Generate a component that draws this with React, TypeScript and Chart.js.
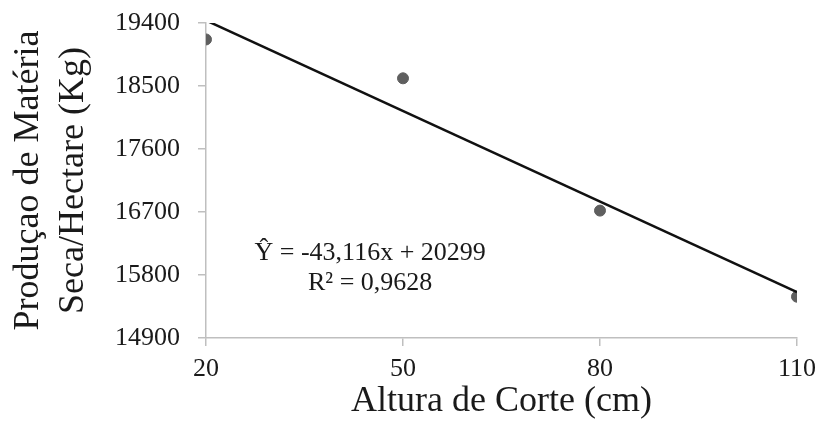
import React, { useEffect, useRef } from "react";
import { Chart, registerables } from "chart.js";

Chart.register(...registerables);

const cutHeights = [20, 50, 80, 110];
const dryMatter = [19165, 18610, 16720, 15490];
const yTicks = [14900, 15800, 16700, 17600, 18500, 19400];
const xTicks = [20, 50, 80, 110];
const trendSlope = -43.116;
const trendIntercept = 20299;
const equationLines = ["Ŷ = -43,116x + 20299", "R² = 0,9628"];
const equationAnchor = { x: 45, y: 16010 };

const FONT = "'Liberation Serif', 'Times New Roman', serif";

const equationPlugin = {
  id: "equationText",
  afterDatasetsDraw(chart: any) {
    const { ctx, scales } = chart;
    const px = scales.x.getPixelForValue(equationAnchor.x);
    const py = scales.y.getPixelForValue(equationAnchor.y);
    ctx.save();
    ctx.font = `26px ${FONT}`;
    ctx.fillStyle = "#1a1a1a";
    ctx.textAlign = "center";
    ctx.textBaseline = "alphabetic";
    equationLines.forEach((line, i) => ctx.fillText(line, px, py + i * 30));
    ctx.restore();
  },
};

const zeroPadding = (s: any) => {
  s.paddingTop = 0;
  s.paddingBottom = 0;
  s.paddingLeft = 0;
  s.paddingRight = 0;
};

export default function App() {
  const ref = useRef<HTMLCanvasElement | null>(null);
  useEffect(() => {
    if (!ref.current) return;
    const xMin = xTicks[0];
    const xMax = xTicks[xTicks.length - 1];
    const chart = new Chart(ref.current, {
      type: "scatter",
      data: {
        datasets: [
          {
            label: "Tendência",
            data: [xMin, xMax].map((x) => ({ x, y: trendSlope * x + trendIntercept })),
            showLine: true,
            borderColor: "#111111",
            borderWidth: 2.5,
            pointRadius: 0,
            order: 0,
          },
          {
            label: "Produção",
            data: cutHeights.map((x, i) => ({ x, y: dryMatter[i] })),
            backgroundColor: "#5f5f5f",
            borderColor: "#5f5f5f",
            pointRadius: 5.5,
            order: 1,
          },
        ],
      },
      options: {
        animation: false,
        responsive: true,
        maintainAspectRatio: false,
        layout: { padding: { top: 23, right: 25, bottom: 0, left: 0 } },
        plugins: { legend: { display: false }, tooltip: { enabled: false } },
        scales: {
          x: {
            type: "linear",
            min: xMin,
            max: xMax,
            afterFit: (s: any) => {
              s.height = 90;
              zeroPadding(s);
            },
            afterBuildTicks: (s: any) => {
              s.ticks = xTicks.map((v) => ({ value: v }));
            },
            ticks: {
              font: { family: FONT, size: 26 },
              color: "#1a1a1a",
              padding: 8,
              maxRotation: 0,
              callback: (v: any) => String(v),
            },
            grid: {
              drawOnChartArea: false,
              drawTicks: true,
              tickLength: 8,
              color: "#bfbfbf",
              lineWidth: 1.5,
            },
            border: { display: true, color: "#bfbfbf", width: 1.5 },
            title: {
              display: true,
              text: "Altura de Corte (cm)",
              font: { family: FONT, size: 36, lineHeight: 1.25 },
              color: "#1a1a1a",
              padding: { top: 0, bottom: 3.5 },
            },
          },
          y: {
            type: "linear",
            min: yTicks[0],
            max: yTicks[yTicks.length - 1],
            afterFit: (s: any) => {
              s.width = 206;
              zeroPadding(s);
            },
            afterBuildTicks: (s: any) => {
              s.ticks = yTicks.map((v) => ({ value: v }));
            },
            ticks: {
              font: { family: FONT, size: 26 },
              color: "#1a1a1a",
              padding: 18,
              callback: (v: any) => String(v),
            },
            grid: {
              drawOnChartArea: false,
              drawTicks: true,
              tickLength: 8,
              color: "#bfbfbf",
              lineWidth: 1.5,
            },
            border: { display: true, color: "#bfbfbf", width: 1.5 },
            title: {
              display: true,
              text: ["Produçao de Matéria", "Seca/Hectare (Kg)"],
              font: { family: FONT, size: 36, lineHeight: 1.25 },
              color: "#1a1a1a",
              padding: { top: 6, bottom: 0 },
            },
          },
        },
      },
      plugins: [equationPlugin],
    });
    return () => chart.destroy();
  }, []);
  return (
    <div style={{ position: "absolute", left: 0, top: 0, width: 822, height: 428, background: "#fff" }}>
      <canvas ref={ref} />
    </div>
  );
}
